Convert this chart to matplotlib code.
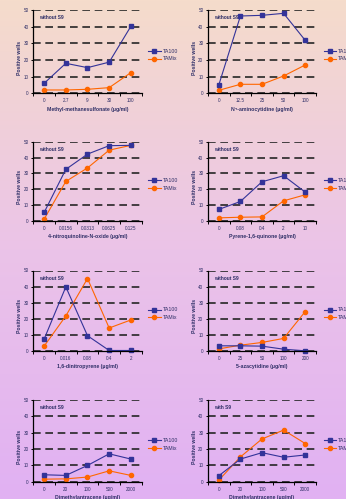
import numpy as np
import matplotlib
matplotlib.use('Agg')
import matplotlib.pyplot as plt
from matplotlib.colors import LinearSegmentedColormap

plt.rcParams['font.family'] = ['Liberation Sans', 'DejaVu Sans']

series_names = ['TA100', 'TAMix']
compounds = ['Methyl-methanesulfonate (µg/ml)', 'N⁴-aminocytidine (µg/ml)',
             '4-nitroquinoline-N-oxide (µg/ml)', 'Pyrene-1,6-quinone (µg/ml)',
             '1,6-dinitropyrene (µg/ml)', '5-azacytidine (µg/ml)',
             'Dimethylantracene (µg/ml)', 'Dimethylantracene (µg/ml)']
conditions = ['without S9', 'without S9', 'without S9', 'without S9',
              'without S9', 'without S9', 'without S9', 'with S9']
doses = [['0', '2.7', '9', '30', '100'],
         ['0', '12.5', '25', '50', '100'],
         ['0', '0.0156', '0.0313', '0.0625', '0.125'],
         ['0', '0.08', '0.4', '2', '10'],
         ['0', '0.016', '0.08', '0.4', '2'],
         ['0', '25', '50', '100', '200'],
         ['0', '20', '100', '500', '2000'],
         ['0', '20', '100', '500', '2000']]
ta100 = [[6, 18, 15.4, 18.7, 40.2],
         [5, 46.4, 46.8, 48, 31.8],
         [5.5, 32.6, 42.2, 47.5, 47.7],
         [7.4, 12.4, 24.8, 28.6, 18.3],
         [7.3, 39.8, 9.4, 0.2, 0.2],
         [3.1, 3.1, 2.9, 1.0, 0],
         [4.3, 3.9, 10, 17.1, 13.9],
         [3.7, 13.9, 17.8, 15, 16.4]]
tamix = [[2, 2, 2.4, 3.4, 12.4],
         [1.8, 5.4, 5.4, 10.4, 17],
         [1.3, 25, 33.5, 44.7, 47.7],
         [2.1, 2.5, 2.7, 12.8, 16.6],
         [2.9, 21.7, 45, 14.2, 19.2],
         [1.2, 3.5, 5.2, 7.7, 24.4],
         [1.6, 1.8, 2.9, 6.7, 3.9],
         [1, 15.2, 26.2, 31.6, 23.4]]
y_ticks = [0, 10, 20, 30, 40, 50]

W, H = 346, 499
fig = plt.figure(figsize=(W / 100, H / 100), dpi=100)

# gradient background
bg = fig.add_axes([0, 0, 1, 1], zorder=-10)
cmap = LinearSegmentedColormap.from_list('bg', ['#f5dccb', '#ebc3e8', '#e1b1f3'])
bg.imshow(np.linspace(0, 1, 256).reshape(-1, 1), aspect='auto', cmap=cmap,
          extent=[0, 1, 0, 1])
bg.axis('off')

cols = [(33.3, 141.7), (208, 316)]
rows = [(10, 93.3), (141.7, 221.2), (270.5, 350.8), (400, 481.8)]
leg_x = [1.058, 1.071]

text_c = '#2e2e66'
c100 = '#333399'
cmix = '#ff6600'

for i in range(8):
    r, c = divmod(i, 2)
    x0, x1 = cols[c]
    y0, y1 = rows[r]
    ax = fig.add_axes([x0 / W, 1 - y1 / H, (x1 - x0) / W, (y1 - y0) / H])
    ax.patch.set_alpha(0)
    n = len(doses[i])
    xs = np.arange(n)
    l1, = ax.plot(xs, ta100[i], color=c100, lw=0.8, marker='s', ms=2.6,
                  label=series_names[0], zorder=5, clip_on=False)
    l2, = ax.plot(xs, tamix[i], color=cmix, lw=0.8, marker='o', ms=3.0,
                  label=series_names[1], zorder=4, clip_on=False)
    ax.set_xlim(-0.5, n - 0.5)
    ax.set_ylim(0, 50)
    ax.set_yticks(y_ticks)
    ax.set_yticklabels([str(v) for v in y_ticks])
    ax.set_xticks(np.arange(n + 1) - 0.5)
    ax.set_xticklabels([])
    ax.set_xticks(xs, minor=True)
    ax.set_xticklabels(doses[i], minor=True)
    ax.tick_params(axis='x', which='major', length=2.2, width=0.7, direction='out')
    ax.tick_params(axis='x', which='minor', length=0, pad=3.5,
                   labelsize=3.3, labelcolor=text_c)
    ax.tick_params(axis='y', length=1.8, width=0.7, direction='out', pad=1.5,
                   labelsize=3.3, labelcolor=text_c)
    for s in ['top', 'right']:
        ax.spines[s].set_visible(False)
    for s in ['left', 'bottom']:
        ax.spines[s].set_linewidth(0.9)
        ax.spines[s].set_zorder(6)
    ax.yaxis.grid(True, color='#262626', lw=1.2, linestyle=(0, (4.6, 2.8)))
    ax.set_axisbelow(True)
    ax.set_xlabel(compounds[i], fontsize=3.7, fontweight='bold', color=text_c)
    ax.xaxis.set_label_coords(0.5, -0.16)
    ax.set_ylabel('Positive wells', fontsize=3.7, fontweight='bold', color=text_c)
    ax.yaxis.set_label_coords(-0.105, 0.43)
    ax.text(0.055, 0.905, conditions[i], transform=ax.transAxes, fontsize=3.5,
            fontweight='bold', color=text_c, va='center', ha='left')
    ax.legend(handles=[l1, l2], loc='center left', bbox_to_anchor=(leg_x[c], 0.46),
              frameon=False, fontsize=3.8, handlelength=2.4, handletextpad=0.35,
              labelspacing=0.55, borderpad=0, borderaxespad=0, labelcolor=text_c)

fig.savefig('out.png', dpi=100)
